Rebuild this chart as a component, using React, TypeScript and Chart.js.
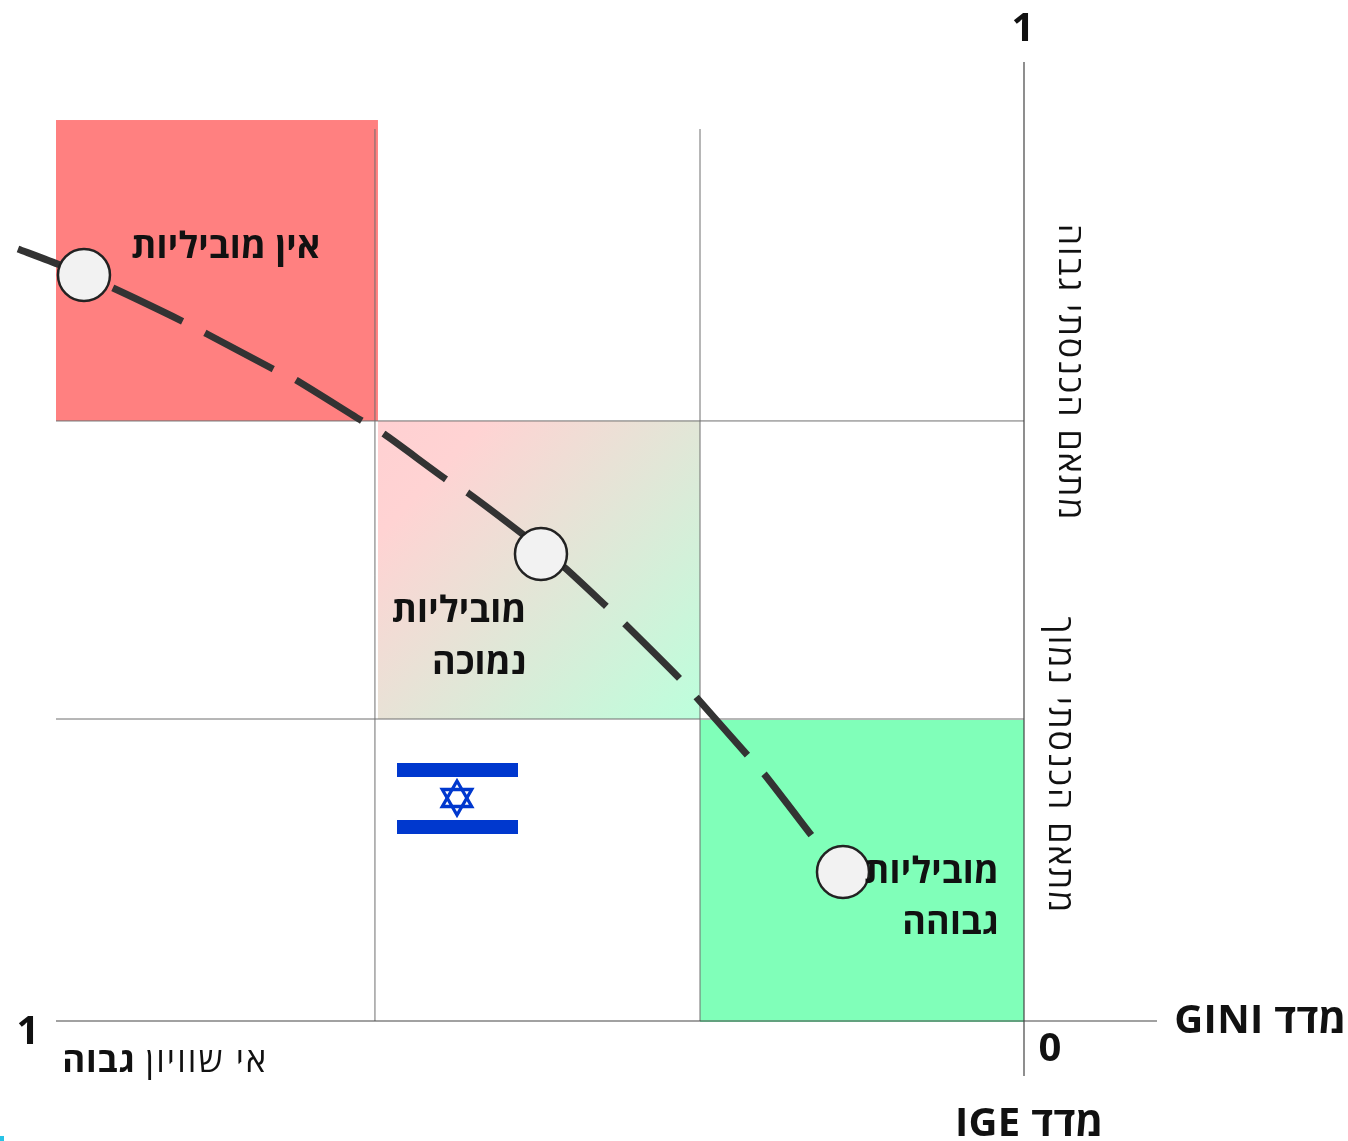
import React, { useEffect, useRef } from "react";
import { Chart, registerables } from "chart.js";

Chart.register(...registerables);

// Curve: x = GINI (1 on the left, 0 on the right), y = IGE
const curveGini = [1.0393, 0.9959, 0.9411, 0.8698, 0.844, 0.7758, 0.7521, 0.6839, 0.6612, 0.5961, 0.5744, 0.5155, 0.4742, 0.4308, 0.4112, 0.3543, 0.3378, 0.2841, 0.2676, 0.219];
const curveIge = [0.805, 0.7883, 0.7643, 0.7299, 0.7164, 0.6799, 0.6684, 0.6257, 0.6121, 0.5641, 0.5506, 0.5057, 0.4724, 0.4317, 0.4129, 0.3556, 0.3368, 0.2753, 0.2565, 0.1929];
const markerGini = [0.9711, 0.499, 0.187];
const markerIge = [0.7779, 0.487, 0.1554];
const giniDividers = [0.6705, 0.3347];
const igeDividers = [0.6257, 0.3149];
const gridTop = 0.9301;
const axisXExtent = [1, -0.1374];
const axisYExtent = [-0.0574, 1];
const regionGini = [[1, 0.6674], [0.6674, 0.3347], [0.3347, 0]];
const regionIge = [[0.6257, 0.9395], [0.3149, 0.6257], [-0.001, 0.3139]];

const FONT = '"Open Sans", "Noto Sans", sans-serif';
const INK = "#111111";

type Txt = { t: string; x: number; y: number; size: number; bold: boolean; align: CanvasTextAlign; rot?: number; sp?: number };
const texts: Txt[] = [
  { t: "1", x: 1023, y: 41, size: 40, bold: true, align: "center" },
  { t: "1", x: 28, y: 1044, size: 40, bold: true, align: "center" },
  { t: "0", x: 1050, y: 1061, size: 40, bold: true, align: "center" },
  { t: "אין מוביליות", x: 320.5, y: 258, size: 36, bold: true, align: "right", sp: 0.2 },
  { t: "מוביליות", x: 526.5, y: 622, size: 36, bold: true, align: "right", sp: 0.2 },
  { t: "נמוכה", x: 526.5, y: 674, size: 36, bold: true, align: "right", sp: 0.2 },
  { t: "מוביליות", x: 999, y: 883, size: 36, bold: true, align: "right", sp: 0.2 },
  { t: "גבוהה", x: 999, y: 934, size: 36, bold: true, align: "right", sp: 0.2 },
  { t: "אי שוויון", x: 268, y: 1072, size: 34, bold: false, align: "right", sp: 2.1 },
  { t: "גבוה", x: 135.5, y: 1072, size: 35, bold: true, align: "right", sp: 0.8 },
  { t: "מדד GINI", x: 1346.5, y: 1033, size: 40, bold: true, align: "right", sp: 0.3 },
  { t: "מדד IGE", x: 1103.5, y: 1136, size: 40, bold: true, align: "right", sp: 0.3 },
  { t: "מתאם הכנסתי גבוה", x: 1059, y: 372.5, size: 34, bold: false, align: "center", rot: Math.PI / 2, sp: 2 },
  { t: "מתאם הכנסתי נמוך", x: 1049, y: 765.5, size: 34, bold: false, align: "center", rot: Math.PI / 2, sp: 2 },
];

const diagramPlugin = {
  id: "diagram",
  beforeDatasetsDraw(chart: any) {
    const { ctx, scales } = chart;
    const { x, y } = scales;
    const fills = ["#FF8080", null, "#80FFB9"];
    regionGini.forEach((g, i) => {
      const l = x.getPixelForValue(g[0]);
      const r = x.getPixelForValue(g[1]);
      const b = y.getPixelForValue(regionIge[i][0]);
      const t = y.getPixelForValue(regionIge[i][1]);
      let fill: any = fills[i];
      if (!fill) {
        fill = ctx.createLinearGradient(l, t, r, b);
        fill.addColorStop(0, "#FFD0D2");
        fill.addColorStop(0.18, "#FFD3D3");
        fill.addColorStop(1, "#BCFFDC");
      }
      ctx.save();
      ctx.fillStyle = fill;
      ctx.fillRect(l, t, r - l, b - t);
      ctx.restore();
    });
  },
  afterDatasetsDraw(chart: any) {
    const { ctx } = chart;
    ctx.save();
    // flag
    ctx.fillStyle = "#0038CE";
    ctx.fillRect(397, 763, 121, 14);
    ctx.fillRect(397, 820, 121, 14);
    ctx.strokeStyle = "#0038CE";
    ctx.lineWidth = 3.3;
    ctx.lineJoin = "miter";
    [-Math.PI / 2, Math.PI / 2].forEach((a0) => {
      ctx.beginPath();
      for (let k = 0; k < 3; k++) {
        const a = a0 + (k * 2 * Math.PI) / 3;
        const px = 457 + 17 * Math.cos(a);
        const py = 798 + 17 * Math.sin(a);
        if (k === 0) ctx.moveTo(px, py);
        else ctx.lineTo(px, py);
      }
      ctx.closePath();
      ctx.stroke();
    });
    // corner fragment
    ctx.fillStyle = "#27C3E6";
    ctx.fillRect(0, 1136, 4, 5);
    // text
    ctx.fillStyle = INK;
    ctx.direction = "rtl";
    texts.forEach((o) => {
      ctx.save();
      ctx.font = `${o.bold ? "700" : "400"} ${o.size}px ${FONT}`;
      ctx.letterSpacing = `${o.sp || 0}px`;
      ctx.textAlign = o.align;
      ctx.textBaseline = "alphabetic";
      ctx.translate(o.x, o.y);
      if (o.rot) ctx.rotate(o.rot);
      ctx.fillText(o.t, 0, 0);
      ctx.restore();
    });
    ctx.restore();
  },
};

const seg = (xs: number[], ys: number[]) => xs.map((v, i) => ({ x: v, y: ys[i] }));
const ruleStyle = { showLine: true, pointRadius: 0, clip: false as const, tension: 0 };

export default function App() {
  const ref = useRef<HTMLCanvasElement>(null);
  useEffect(() => {
    const chart = new Chart(ref.current!, {
      type: "scatter",
      plugins: [diagramPlugin],
      data: {
        datasets: [
          {
            label: "markers",
            data: seg(markerGini, markerIge),
            pointRadius: 26,
            pointHoverRadius: 26,
            pointBackgroundColor: "#F2F2F2",
            pointBorderColor: "#222222",
            pointBorderWidth: 2.5,
            clip: false,
          },
          {
            label: "curve",
            data: seg(curveGini, curveIge),
            showLine: true,
            pointRadius: 0,
            borderColor: "#333333",
            borderWidth: 7,
            borderDash: [77.5, 25],
            tension: 0.2,
            clip: false,
          },
          { label: "y axis", data: seg([0, 0], axisYExtent), borderColor: "#444444", borderWidth: 1.2, ...ruleStyle },
          { label: "x axis", data: seg(axisXExtent, [0, 0]), borderColor: "#444444", borderWidth: 1.2, ...ruleStyle },
          ...giniDividers.map((g, i) => ({
            label: `gini divider ${i}`,
            data: seg([g, g], [0, gridTop]),
            borderColor: "#6E6E6E",
            borderWidth: 1,
            ...ruleStyle,
          })),
          ...igeDividers.map((v, i) => ({
            label: `ige divider ${i}`,
            data: seg([1, 0], [v, v]),
            borderColor: "#6E6E6E",
            borderWidth: 1,
            ...ruleStyle,
          })),
        ],
      },
      options: {
        animation: false,
        responsive: false,
        devicePixelRatio: 1,
        layout: { padding: { left: 56, right: 324, top: 62, bottom: 120 } },
        plugins: { legend: { display: false }, tooltip: { enabled: false } },
        scales: {
          x: { type: "linear", min: 0, max: 1, reverse: true, display: false },
          y: { type: "linear", min: 0, max: 1, display: false },
        },
      },
    });
    return () => chart.destroy();
  }, []);
  return <canvas ref={ref} width={1348} height={1141} style={{ position: "absolute", left: 0, top: 0, display: "block" }} />;
}
